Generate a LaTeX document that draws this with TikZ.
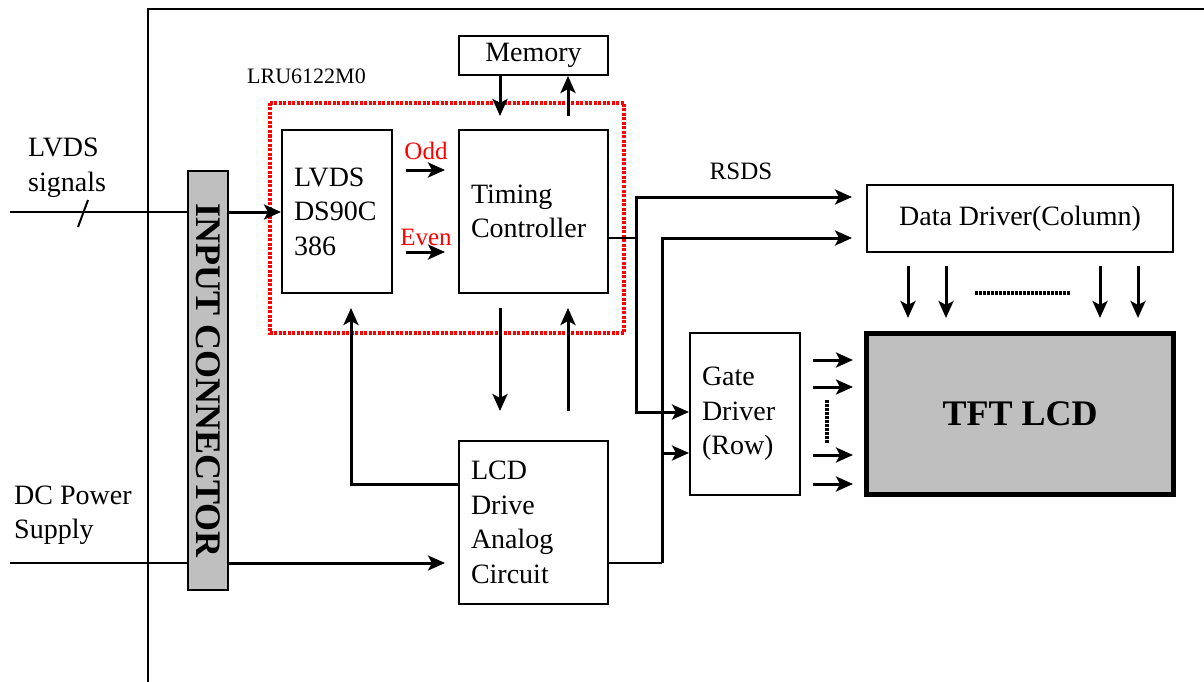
\documentclass[tikz,border=0pt]{standalone}
\usepackage{fontspec}
\setmainfont{Liberation Serif}
\usetikzlibrary{arrows.meta}

\begin{document}
\begin{tikzpicture}[
  x=1pt, y=-1pt,
  font=\fontsize{28}{34.5}\selectfont,
  blk/.style={draw, line width=2pt, inner xsep=12pt, inner ysep=0pt, align=left},
  cbox/.style={draw, line width=2pt, inner sep=0pt, align=center},
  gbox/.style={draw, fill=black!25, inner sep=0pt},
  big/.style={font=\fontsize{36}{40}\selectfont\bfseries, inner sep=0pt},
  fl/.style={-{Stealth[length=17pt,width=15pt,inset=4pt]}, line width=3pt},
  wire/.style={line width=2.5pt},
  sig/.style={font=\fontsize{25}{30}\selectfont, inner sep=0pt},
  dots/.style={line width=3.5pt, dash pattern=on 2.5pt off 1.5pt}
]
\useasboundingbox (0,0) rectangle (1204,682);

% ---------- frame ----------
\draw[line width=2pt] (148,682) -- (148,9) -- (1204,9);

% ---------- input connector ----------
\node[gbox, line width=2pt, minimum width=40pt, minimum height=419pt] (conn) at (208,380.5) {};
\node[big, rotate=-90] (connlbl) at (conn.center) {INPUT CONNECTOR};

% ---------- LRU6122M0 board ----------
\draw[red, line width=3.5pt, dash pattern=on 3pt off 1.5pt] (270,103) rectangle (624,333);
\node[font=\fontsize{22}{26}\selectfont, anchor=west, inner sep=0pt] (lru) at (247,76) {LRU6122M0};

\node[blk, text width=86pt, minimum height=163pt]  (lvds) at (337,211.5)   {LVDS\\DS90C\\386};
\node[blk, text width=125pt, minimum height=163pt] (tcon) at (533.5,211.5) {Timing\\Controller};
\node[cbox, minimum width=149pt, minimum height=39pt] (mem) at (533.5,55.5) {\raisebox{-3pt}{Memory}};
\node[blk, text width=125pt, minimum height=163pt] (drv)  at (533.5,522.5) {LCD\\Drive\\Analog\\Circuit};

\node[sig, text=red] (odd)  at (426,151) {Odd};
\node[sig, text=red] (even) at (426,237) {Even};

% ---------- panel side ----------
\node[blk, text width=86pt, minimum height=162pt] (gate) at (745,414) {Gate\\Driver\\(Row)};
\node[cbox, minimum width=306pt, minimum height=67pt] (ddrv) at (1020,218.5) {Data Driver(Column)};
\node[gbox, line width=5pt, minimum width=307pt, minimum height=161pt] (tft) at (1020,414) {};
\node[big] (tftlbl) at (tft.center) {TFT LCD};
\node[sig] (rsds) at (741,171) {RSDS};

% ---------- outside signals ----------
\node[anchor=west, inner sep=0pt, align=left] (lvsig) at (28,168) {LVDS\\signals};
\node[anchor=west, inner sep=0pt, align=left] (dcsig) at (14,515) {DC Power\\Supply};

\coordinate (lvin) at (10,212);
\draw[wire] (lvin) -- (conn.west |- lvin);
\draw[fl] (conn.east |- lvin) -- (lvds.west |- lvin);
\draw[line width=2pt] (78,227) -- (88,200);

\coordinate (dcin) at (10,563);
\draw[wire] (dcin) -- (conn.west |- dcin);
\draw[fl, shorten >=13pt] (conn.east |- dcin) -- (drv.west |- dcin);

% ---------- odd / even ----------
\draw[fl, shorten <=13pt, shorten >=13pt] ([yshift=41.5pt]lvds.east) -- ([yshift=41.5pt]tcon.west);
\draw[fl, shorten <=13pt, shorten >=13pt] ([yshift=-40.5pt]lvds.east) -- ([yshift=-40.5pt]tcon.west);

% ---------- memory ----------
\draw[fl, shorten >=13pt] ([xshift=-33.5pt]mem.south) -- ([xshift=-33.5pt]tcon.north);
\draw[fl, shorten <=13pt] ([xshift=34.5pt]tcon.north) -- ([xshift=34.5pt]mem.south);

% ---------- timing controller <-> analog circuit ----------
\draw[fl, shorten <=14pt, shorten >=29pt] ([xshift=-33.5pt]tcon.south) -- ([xshift=-33.5pt]drv.north);
\draw[fl, shorten <=29pt, shorten >=14pt] ([xshift=34.5pt]drv.north) -- ([xshift=34.5pt]tcon.south);
\draw[fl, shorten >=14pt] ([yshift=38.5pt]drv.west) -| ([xshift=14pt]lvds.south);

% ---------- RSDS to the drivers ----------
\coordinate (tsplit) at (636,238);
\draw[wire] ([yshift=-26.5pt]tcon.east) -- (tsplit);
\draw[fl, shorten >=14pt] (tsplit) |- ([yshift=21.5pt]ddrv.west);
\draw[fl] (tsplit) |- ([yshift=2pt]gate.west);

\coordinate (dsplit) at (662,563);
\coordinate (dgate) at (662,453);
\draw[wire] ([yshift=-40.5pt]drv.east) -- (dsplit);
\draw[fl, shorten >=14pt] (dsplit) |- ([yshift=-19.5pt]ddrv.west);
\draw[fl] (dgate) -- (gate.west |- dgate);

% ---------- columns and rows ----------
\foreach \dx in {-112,-74,80,118}
  \draw[fl, shorten <=13pt, shorten >=13pt] ([xshift=\dx pt]ddrv.south) -- ([xshift=\dx pt]tft.north);
\draw[dots] (975,293) -- (1070,293);

\foreach \dy in {54,27,-41,-70}
  \draw[fl, shorten <=12pt, shorten >=11pt] ([yshift=\dy pt]gate.east) -- ([yshift=\dy pt]tft.west);
\draw[dots] (827,400) -- (827,443);

\end{tikzpicture}
\end{document}
